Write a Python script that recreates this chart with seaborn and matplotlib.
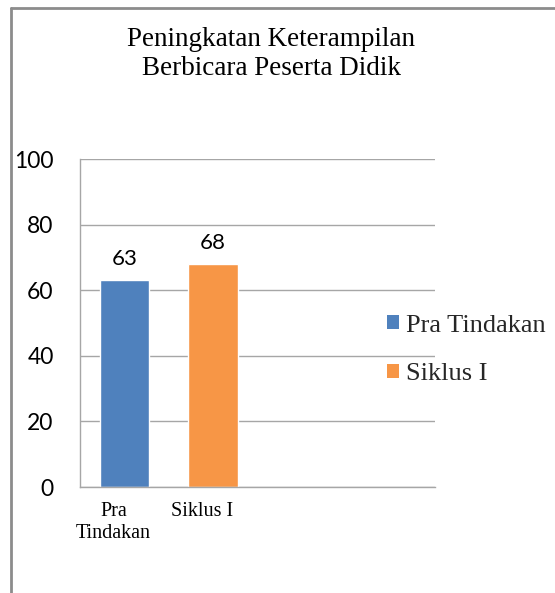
import matplotlib
matplotlib.use("Agg")
import matplotlib.pyplot as plt
import matplotlib.transforms as mtransforms
import seaborn as sns
import pandas as pd
from matplotlib.patches import Patch
from matplotlib.lines import Line2D

title = "Peningkatan Keterampilan\nBerbicara Peserta Didik"
categories = ["Pra\nTindakan", "Siklus I"]
series_names = ["Pra Tindakan", "Siklus I"]
values = [63, 68]
colors = ["#4F81BD", "#F79646"]
y_ticks = [0, 20, 40, 60, 80, 100]

sns.set_theme(style="white")
plt.rcParams["font.family"] = ["Lato", "DejaVu Sans"]

W, H = 555, 593
fig = plt.figure(figsize=(W / 100, H / 100), dpi=100)
ax = fig.add_axes([80 / W, 1 - 487 / H, 355 / W, 328 / H])

df = pd.DataFrame({"cat": categories, "val": values, "series": series_names})
sns.barplot(data=df, x="cat", y="val", hue="series", palette=colors,
            width=0.56, dodge=False, legend=False, ax=ax, saturation=1)

ax.set_xlim(-0.5, 3.5)
ax.set_ylim(0, 100)
ax.set_yticks(y_ticks)
ax.set_xlabel("")
ax.set_ylabel("")
grid_c = "#A6A6A6"
ax.yaxis.grid(True, color=grid_c, lw=1)
ax.set_axisbelow(True)
for s in ["top", "right"]:
    ax.spines[s].set_visible(False)
for s in ["left", "bottom"]:
    ax.spines[s].set_color(grid_c)
    ax.spines[s].set_linewidth(1)

ax.tick_params(axis="y", length=0, pad=19, labelsize=16.5, labelcolor="#000000")
ax.tick_params(axis="x", length=0, pad=11)
ax.set_xticks(range(len(categories)))
ax.set_xticklabels(categories, fontfamily="Liberation Serif", fontsize=14.5,
                   linespacing=1.2, color="#000000")
shift = mtransforms.ScaledTranslation(-11 / 100, 0, fig.dpi_scale_trans)
for lbl in ax.get_xticklabels():
    lbl.set_transform(lbl.get_transform() + shift)

for cont in ax.containers:
    ax.bar_label(cont, fmt="%d", padding=8, fontsize=16, color="#000000")

fig.text(271 / W, 1 - 27 / H, title, ha="center", va="top",
         fontfamily="Liberation Serif", fontsize=19.5, linespacing=1.2,
         color="#000000")

handles = [Patch(facecolor=c, edgecolor="none") for c in colors]
fig.legend(handles=handles, labels=series_names, loc="center left",
           bbox_to_anchor=(387 / W, 1 - 350 / H), frameon=False,
           prop={"family": "Liberation Serif", "size": 19},
           handlelength=0.45, handleheight=0.45, handletextpad=0.27,
           labelspacing=1.0, borderpad=0, borderaxespad=0)

border_c = "#8C8C8C"
fig.add_artist(Line2D([11 / W, 11 / W], [0, 1 - 8 / H], transform=fig.transFigure,
                      color=border_c, lw=2))
fig.add_artist(Line2D([11 / W, 1], [1 - 8 / H, 1 - 8 / H], transform=fig.transFigure,
                      color=border_c, lw=2))

fig.savefig("out.png", dpi=100, facecolor="white")
